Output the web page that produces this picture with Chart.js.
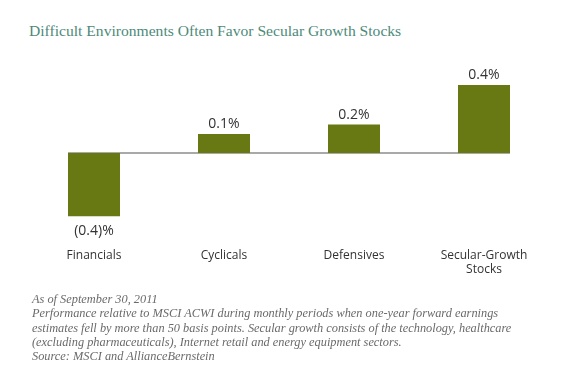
<!DOCTYPE html>
<html>
<head>
<meta charset="utf-8">
<script src="https://cdn.jsdelivr.net/npm/chart.js@4/dist/chart.umd.min.js"></script>
<style>
  body { margin: 0; background: #fff; }
  #wrap { position: relative; width: 580px; height: 377px; overflow: hidden; }
  #title {
    position: absolute; left: 29px; top: 22px;
    font-family: "Liberation Serif", serif; font-size: 15.6px;
    color: #4d8a7a; white-space: nowrap;
  }
  #chartBox { position: absolute; left: 0; top: 60px; width: 580px; height: 241px; }
  #notes {
    position: absolute; left: 32px; top: 292px;
    font-family: "Liberation Serif", serif; font-style: italic;
    font-size: 12.35px; line-height: 14.3px; color: #6a6a6a; white-space: nowrap;
  }
</style>
</head>
<body>
<div id="wrap">
  <div id="title">Difficult Environments Often Favor Secular Growth Stocks</div>
  <div id="chartBox"><canvas id="chart"></canvas></div>
  <div id="notes">
    As of September 30, 2011<br>
    Performance relative to MSCI ACWI during monthly periods when one-year forward earnings<br>
    estimates fell by more than 50 basis points. Secular growth consists of the technology, healthcare<br>
    (excluding pharmaceuticals), Internet retail and energy equipment sectors.<br>
    Source: MSCI and AllianceBernstein
  </div>
</div>
<script>
const categories = ["Financials", "Cyclicals", "Defensives", ["Secular-Growth", "Stocks"]];
const values = [-0.40, 0.12, 0.18, 0.43];
const valueLabels = ["(0.4)%", "0.1%", "0.2%", "0.4%"];

const zeroLine = {
  id: "zeroLine",
  beforeDatasetsDraw(chart) {
    const meta = chart.getDatasetMeta(0);
    const first = meta.data[0], last = meta.data[meta.data.length - 1];
    const y0 = chart.scales.y.getPixelForValue(0);
    const ctx = chart.ctx;
    ctx.save();
    ctx.strokeStyle = "#8c8c8c";
    ctx.lineWidth = 1.5;
    ctx.beginPath();
    ctx.moveTo(first.x - first.width / 2, y0);
    ctx.lineTo(last.x + last.width / 2, y0);
    ctx.stroke();
    ctx.restore();
  }
};

const barLabels = {
  id: "barLabels",
  afterDatasetsDraw(chart) {
    const meta = chart.getDatasetMeta(0);
    const ctx = chart.ctx;
    ctx.save();
    ctx.font = '14px "Open Sans", sans-serif';
    ctx.fillStyle = "#333";
    ctx.textAlign = "center";
    meta.data.forEach((bar, i) => {
      if (values[i] >= 0) {
        ctx.textBaseline = "bottom";
        ctx.fillText(valueLabels[i], bar.x, bar.y - 3);
      } else {
        ctx.textBaseline = "top";
        ctx.fillText(valueLabels[i], bar.x, bar.y + 8);
      }
    });
    ctx.restore();
  }
};

new Chart(document.getElementById("chart"), {
  type: "bar",
  data: {
    labels: categories,
    datasets: [
      {
        data: values,
        backgroundColor: "#687913",
        categoryPercentage: 1,
        barPercentage: 0.4,
      },
    ],
  },
  plugins: [zeroLine, barLabels],
  options: {
    responsive: true,
    maintainAspectRatio: false,
    animation: false,
    layout: { padding: { left: 29, right: 31, top: 14, bottom: 0 } },
    plugins: {
      legend: { display: false },
      tooltip: { enabled: false },
    },
    scales: {
      x: {
        grid: { display: false, drawTicks: false },
        border: { display: false },
        ticks: {
          padding: 24,
          color: "#333",
          font: { family: '"Open Sans", sans-serif', size: 12 },
        },
      },
      y: {
        display: false,
        min: -0.45,
        max: 0.5,
      },
    },
  },
});
</script>
</body>
</html>
